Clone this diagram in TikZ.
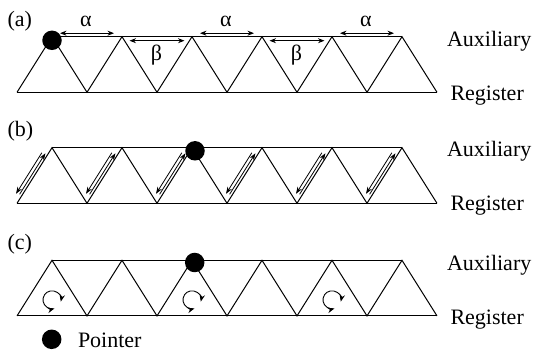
\documentclass[tikz,border=0pt]{standalone}
\usepackage{fontspec}
\setmainfont{Liberation Serif}
\usetikzlibrary{arrows.meta,calc}
\begin{document}
\begin{tikzpicture}[x=1pt,y=-1pt,
  line width=1pt,
  lbl/.style={font=\fontsize{22}{26}\selectfont, inner sep=0pt},
  ptr/.style={circle, fill=black, minimum size=19.5pt, inner sep=0pt},
  dimarrow/.style={{Stealth[length=6.5pt,width=5pt]}-{Stealth[length=6.5pt,width=5pt]}, line width=0.9pt},
  uparrow/.style={-{Stealth[length=7pt,width=5pt]}, line width=0.8pt},
  rotarrow/.style={{Stealth[length=7pt,width=5.5pt]}-{Stealth[length=7pt,width=5.5pt]}, line width=0.9pt}
]
\useasboundingbox (0,0) rectangle (533,358);

% lattices
\foreach \p/\ty in {a/36.7, b/147.7, c/260.3} {
  \foreach \k in {0,...,6} { \coordinate (B\p\k) at ({17+70*\k}, {\ty+55.6}); }
  \foreach \k in {0,...,5} { \coordinate (T\p\k) at ({52+70*\k}, \ty); }
  \draw (B\p0) -- (B\p6);
  \draw (T\p0) -- (T\p5);
  \draw (B\p0) -- (T\p0) -- (B\p1) -- (T\p1) -- (B\p2) -- (T\p2) -- (B\p3)
        -- (T\p3) -- (B\p4) -- (T\p4) -- (B\p5) -- (T\p5) -- (B\p6);
}

% panel labels
\node[lbl, anchor=base west] (la) at (7,26.6) {(a)};
\node[lbl, anchor=base west] (lb) at (7,136.6) {(b)};
\node[lbl, anchor=base west] (lc) at (7,250) {(c)};
\node[lbl, anchor=base west] (auxa) at (446.5,46.6) {Auxiliary};
\node[lbl, anchor=base west] (rega) at (450,101) {Register};
\node[lbl, anchor=base west] (auxb) at (446.5,157) {Auxiliary};
\node[lbl, anchor=base west] (regb) at (450,211) {Register};
\node[lbl, anchor=base west] (auxc) at (446.5,270) {Auxiliary};
\node[lbl, anchor=base west] (regc) at (450,324) {Register};

% (a) alpha / beta arrows
\foreach \i/\j in {0/1, 2/3, 4/5} {
  \draw[dimarrow, shorten <=8pt, shorten >=8pt] ([yshift=3.5pt]Ta\i) -- ([yshift=3.5pt]Ta\j);
  \path ($(Ta\i)!0.5!(Ta\j)$) ++(-1,-10) node[lbl, anchor=base] (alpha\i) {α};
}
\foreach \i/\j in {1/2, 3/4} {
  \draw[dimarrow, shorten <=7.5pt, shorten >=7.5pt] ([yshift=-4pt]Ta\i) -- ([yshift=-4pt]Ta\j);
  \path ($(Ta\i)!0.5!(Ta\j)$) ++(-0.5,23.5) node[lbl, anchor=base] (beta\i) {β};
}

% (b) exchange arrows
\foreach \k in {0,...,5} {
  \draw[uparrow] ($(Bb\k)!9pt!(Tb\k)!2.6pt!90:(Tb\k)$) -- ($(Bb\k)!57.5pt!(Tb\k)!2.6pt!90:(Tb\k)$);
  \draw[uparrow] ($(Bb\k)!56pt!(Tb\k)!5.9pt!90:(Tb\k)$) -- ($(Bb\k)!7.5pt!(Tb\k)!5.9pt!90:(Tb\k)$);
}

% (c) rotation arrows
\foreach \k in {0,2,4} {
  \coordinate (R\k) at ($(Tc\k)+(0,39.5)$);
  \draw[rotarrow] (R\k) ++(12:9) arc[start angle=12, end angle=-286, radius=9];
}

% pointers
\node[ptr] (pa) at (52,40.3) {};
\node[ptr] (pb) at (195,150.8) {};
\node[ptr] (pc) at (194.7,262.5) {};
\node[ptr] (pl) at (51.7,339.3) {};
\node[lbl, anchor=base west] (pt) at (77.5,347) {Pointer};
\end{tikzpicture}
\end{document}
